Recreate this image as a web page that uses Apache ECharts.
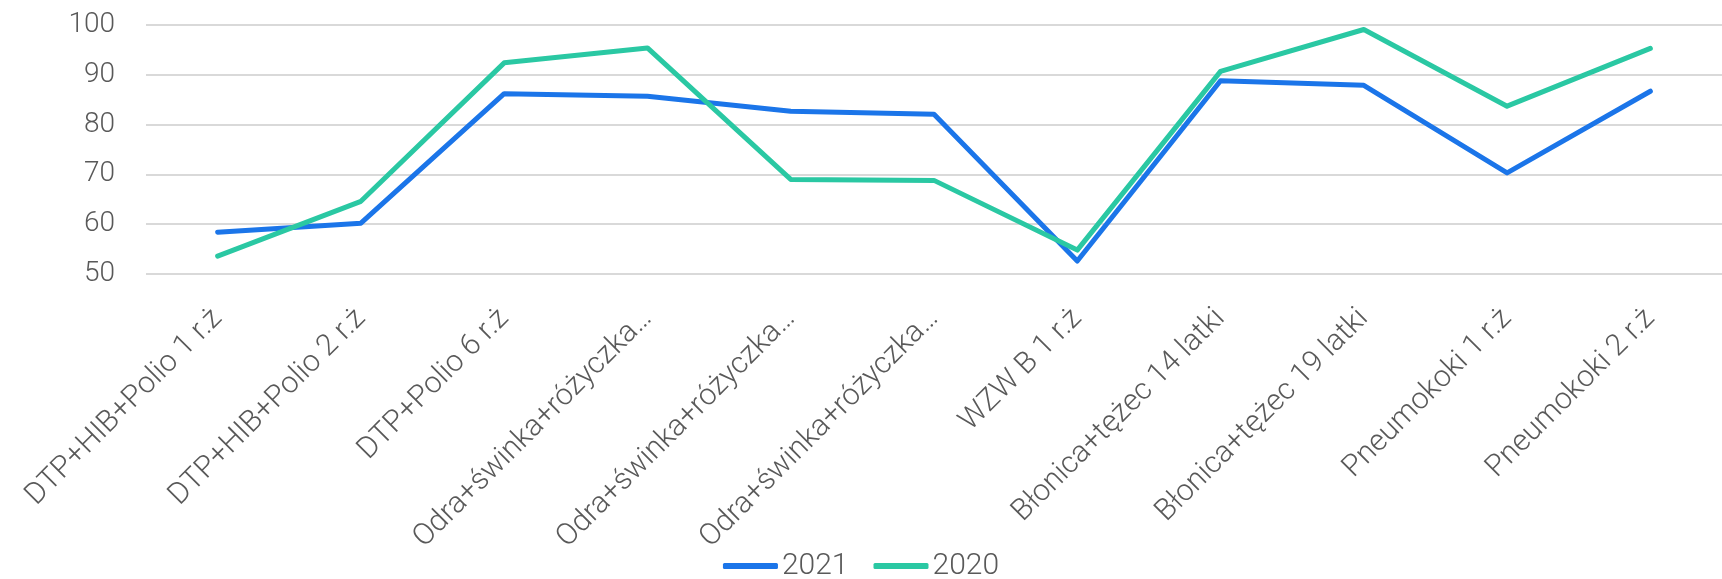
<!DOCTYPE html>
<html>
<head>
<meta charset="utf-8">
<script src="https://cdn.jsdelivr.net/npm/echarts@6/dist/echarts.min.js"></script>
<style>
  html, body { margin: 0; padding: 0; background: #fff; }
  #chart { width: 1722px; height: 579px; }
</style>
</head>
<body>
<div id="chart"></div>
<script>
// dane
var categories = [
    'DTP+HIB+Polio 1 r.ż',
    'DTP+HIB+Polio 2 r.ż',
    'DTP+Polio 6 r.ż',
    'Odra+świnka+różyczka…',
    'Odra+świnka+różyczka…',
    'Odra+świnka+różyczka…',
    'WZW B 1 r.ż',
    'Błonica+tężec 14 latki',
    'Błonica+tężec 19 latki',
    'Pneumokoki 1 r.ż',
    'Pneumokoki 2 r.ż'
];
var seriesNames = ['2021', '2020'];
var values2021 = [58.4, 60.2, 86.2, 85.7, 82.7, 82.1, 52.6, 88.8, 87.9, 70.3, 86.7];
var values2020 = [53.6, 64.6, 92.4, 95.4, 69.0, 68.8, 54.8, 90.7, 99.1, 83.7, 95.3];

var textColor = '#595959';
var fontFamily = 'Roboto, "Noto Sans", sans-serif';

var myChart = echarts.init(document.getElementById('chart'));

var option = {
    color: ['#1B75E9', '#2AC8A3'],
    textStyle: { fontFamily: fontFamily },
    legend: {
        data: seriesNames,
        left: 'center',
        top: 546,
        icon: 'roundRect',
        itemWidth: 55,
        itemHeight: 6,
        itemGap: 25,
        textStyle: {
            color: textColor,
            fontSize: 30,
            fontWeight: 300,
            fontFamily: fontFamily,
            padding: [0, 0, 0, -1]
        }
    },
    grid: {
        left: 146,
        right: -19,
        top: 25,
        bottom: 305,
        containLabel: false
    },
    xAxis: {
        type: 'category',
        data: categories,
        boundaryGap: true,
        axisLine: { show: false },
        axisTick: { show: false },
        axisLabel: {
            interval: 0,
            rotate: 45,
            margin: 40,
            color: textColor,
            fontSize: 30,
            fontWeight: 300,
            fontFamily: fontFamily
        }
    },
    yAxis: {
        type: 'value',
        min: 50,
        max: 100,
        interval: 10,
        axisLine: { show: false },
        axisTick: { show: false },
        axisLabel: {
            margin: 31,
            color: textColor,
            fontSize: 28,
            fontWeight: 300,
            fontFamily: fontFamily
        },
        splitLine: {
            lineStyle: { color: '#d9d9d9', width: 2 }
        }
    },
    series: [
        {
            name: seriesNames[0],
            type: 'line',
            data: values2021,
            symbol: 'none',
            lineStyle: { width: 5, cap: 'round', join: 'round' }
        },
        {
            name: seriesNames[1],
            type: 'line',
            data: values2020,
            symbol: 'none',
            lineStyle: { width: 5, cap: 'round', join: 'round' }
        }
    ]
};

myChart.setOption(option);
</script>
</body>
</html>
